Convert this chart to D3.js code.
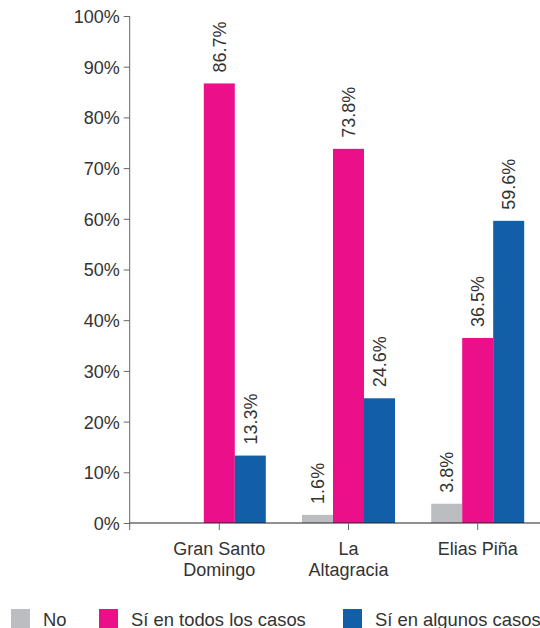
<!DOCTYPE html>
<html><head><meta charset="utf-8">
<script src="https://cdn.jsdelivr.net/npm/d3@7"></script>
<style>body{margin:0;background:#fff}svg text{font-family:"Liberation Sans",Arial,sans-serif;fill:#333}</style>
</head><body><svg id="c" width="540" height="628"></svg>
<script>
const categories = [["Gran Santo","Domingo"],["La","Altagracia"],["Elias Piña"]];
const seriesNames = ["No","Sí en todos los casos","Sí en algunos casos"];
const seriesNo = [null, 1.6, 3.8];
const seriesTodos = [86.7, 73.8, 36.5];
const seriesAlgunos = [13.3, 24.6, 59.6];
const yTicks = [0,10,20,30,40,50,60,70,80,90,100];
const colors = ["#bcbdc1","#ec0f8a","#125fa8"];

const series = [seriesNo, seriesTodos, seriesAlgunos];
const svg = d3.select("#c");
const y = d3.scaleLinear().domain([0,100]).range([523,16]);
const x0 = d3.scaleBand().domain(d3.range(categories.length)).range([154.7,542.3]).padding(0);
const x1 = d3.scaleBand().domain(d3.range(series.length)).range([-46.5,46.5]).padding(0);
const bw = x1.bandwidth();

// y axis
const yAxis = svg.append("g").attr("transform","translate(129.7,0)")
  .call(d3.axisLeft(y).tickValues(yTicks).tickFormat(d=>d+"%").tickSize(6).tickPadding(4));
yAxis.select(".domain").attr("stroke","#666").attr("d","M0,16V530");
yAxis.selectAll(".tick line").attr("stroke","#666");
yAxis.selectAll("text").attr("font-size",18).style("fill","#333").attr("dy","0.36em");

// bars
series.forEach((s,si)=>{
  s.forEach((v,ci)=>{
    if(v==null) return;
    const cx = x0(ci)+x0.bandwidth()/2;
    svg.append("rect").attr("x",cx+x1(si)).attr("y",y(v)).attr("width",bw).attr("height",y(0)-y(v)).attr("fill",colors[si]);
    svg.append("text").attr("transform",`translate(${cx+x1(si)+bw/2+6.5},${y(v)-11}) rotate(-90)`)
      .attr("font-size",18).text(v.toFixed(1)+"%");
  });
});

// x axis
const xg = svg.append("g").attr("transform","translate(0,523)");
xg.append("line").attr("x1",129.7).attr("x2",540).attr("stroke","#222").attr("stroke-width",1.2);
categories.forEach((lines,ci)=>{
  const cx = x0(ci)+x0.bandwidth()/2;
  xg.append("line").attr("x1",cx).attr("x2",cx).attr("y1",0).attr("y2",7).attr("stroke","#666");
  const t = xg.append("text").attr("text-anchor","middle").attr("font-size",18);
  lines.forEach((l,li)=>t.append("tspan").attr("x",cx).attr("y",32+li*20.5).text(l));
});

// legend
const legX = [11,99,343];
seriesNames.forEach((n,i)=>{
  svg.append("rect").attr("x",legX[i]).attr("y",609).attr("width",19).attr("height",19).attr("fill",colors[i]);
  svg.append("text").attr("x",legX[i]+32).attr("y",626).attr("font-size",18.4).text(n);
});
</script></body></html>
